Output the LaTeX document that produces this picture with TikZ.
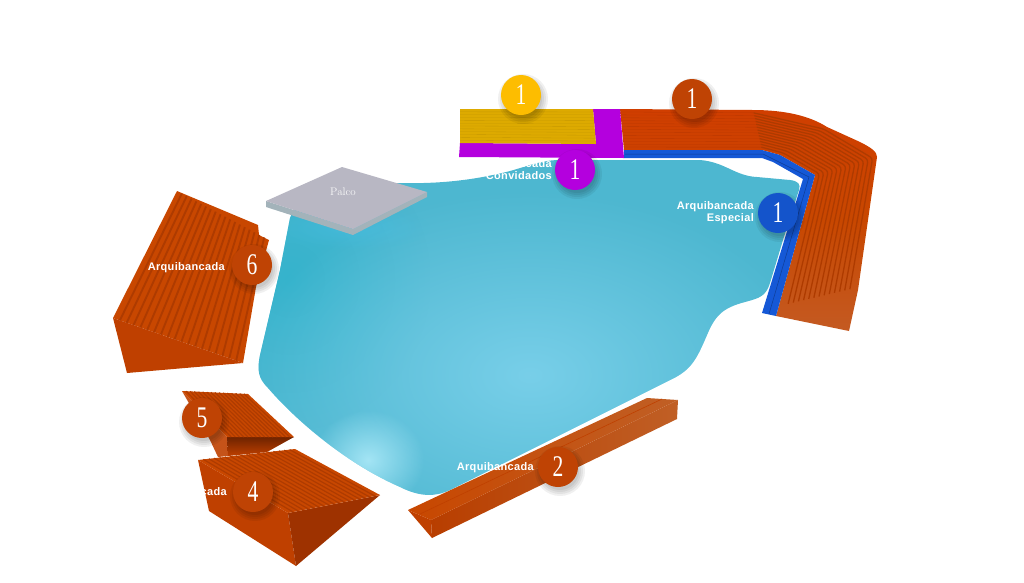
\documentclass[tikz,border=0pt]{standalone}
\usepackage{fontspec}
\usepackage{xcolor}
\usepackage{tikz}
\usetikzlibrary{calc,positioning,fadings}

\newfontfamily\tagfont[LetterSpace=3]{Liberation Sans}
\newfontfamily\numfont{Liberation Serif}

\definecolor{lakeblue}{HTML}{4DB7D0}
\definecolor{brick}{HTML}{C84700}
\definecolor{brickdark}{HTML}{AE3B00}
\definecolor{brickside}{HTML}{BF4000}
\definecolor{brickdeep}{HTML}{9E3200}
\definecolor{seatorange}{HTML}{D03E00}
\definecolor{seatgold}{HTML}{DDAA00}
\definecolor{seatpurple}{HTML}{B400DE}
\definecolor{seatblue}{HTML}{1558D6}
\definecolor{badgegold}{HTML}{FDBD00}
\definecolor{badgebrick}{HTML}{BF4304}
\definecolor{glowcyan}{HTML}{2FB2CB}
\definecolor{lightlake}{HTML}{78CFE9}
\definecolor{spotlake}{HTML}{BDF2FF}
\definecolor{palcotop}{HTML}{B8B7C3}
\definecolor{palcoside}{HTML}{A3B3BA}

\tikzfading[name=softglow, inner color=transparent!0, outer color=transparent!100]

\begin{document}
\begin{tikzpicture}[x=1pt,y=-1pt]

\tikzset{badge/.style={circle, fill=#1, text=white, minimum size=40pt, inner sep=0pt,
  font=\numfont\fontsize{30}{30}\selectfont},
badge/.default={badgebrick},
tag/.style={text=white, font=\tagfont\bfseries\fontsize{11}{12}\selectfont, align=right, anchor=east, inner sep=0pt},
riser/.style={draw=brickdark, line width=1.5pt}}

\newcommand{\num}[1]{\scalebox{.72}[1]{#1}}

\useasboundingbox (0,0) rectangle (1024,582);

% lake
\begin{scope}
\clip (290,218) .. controls (296,200) and (330,186) .. (400,183)
  .. controls (440,184) and (475,180) .. (510,171)
  .. controls (528,166) and (542,160) .. (560,160) -- (700,160)
  .. controls (725,162) and (735,176) .. (757,177) -- (790,180)
  .. controls (798,181) and (801,184) .. (799,190) -- (783,240) -- (770,283)
  .. controls (766,296) and (760,298) .. (745,302)
  .. controls (722,308) and (715,316) .. (707,335)
  .. controls (697,358) and (692,370) .. (670,380) -- (450,490)
  .. controls (435,497) and (420,497) .. (400,487)
  .. controls (350,465) and (300,425) .. (268,388)
  .. controls (258,378) and (257,370) .. (260,355) -- (280,270) -- cycle;
\fill[lakeblue] (200,100) rectangle (850,540);
\fill[glowcyan, opacity=.8, path fading=softglow] (150,130) rectangle (430,430);
\fill[lightlake, path fading=softglow] (240,190) rectangle (820,560);
\fill[spotlake, opacity=.75, path fading=softglow] (312,410) rectangle (424,510);
\fill[cyan!70!white, opacity=.3, path fading=softglow] (270,205) rectangle (430,250);
\end{scope}

% palco
\fill[palcoside] (266,201) -- (353,229) -- (427,192) -- (427,197) -- (353,235) -- (266,207) -- cycle;
\fill[palcotop] (342,167) -- (427,192) -- (353,229) -- (266,201) -- cycle;
\node (palco) at (343,192) {\textcolor{white!90!palcotop}{\fontsize{11}{11}\selectfont Palco}};

\node[tag] (tagguest) at (552,170) {Arquibancada\\Convidados};

% stand 6
\coordinate (s6a) at (177,191);
\coordinate (s6b) at (269,240);
\coordinate (s6c) at (113,318);
\coordinate (s6d) at (243,363);
\fill[brick] (s6a) -- (258,225) -- (259,235) -- (s6b) -- (256,287) -- (s6d) -- (s6c) -- cycle;
\fill[brickside] (s6c) -- (s6d) -- (127,373) -- cycle;
\foreach \i in {1,...,18}
\draw[riser, line width=1.9pt] ($(s6a)!\i/19!(s6b)$) -- ($(s6c)!\i/19!(s6d)$);

% stand 5
\coordinate (s5a) at (182,391);
\coordinate (s5b) at (248,394);
\coordinate (s5c) at (227,437);
\coordinate (s5d) at (294,437);
\fill[brickside!90!white] (s5a) -- (s5c) -- (228,456) -- (218,457) -- (210,440) -- cycle;
\shade[top color=brickdeep!70!black, bottom color=brickside] (s5c) -- (s5d) -- (267,452) -- (228,456) -- cycle;
\fill[brick] (s5a) -- (s5b) -- (s5d) -- (s5c) -- cycle;
\foreach \i in {1,...,15}
\draw[riser, line width=1.2pt] ($(s5a)!\i/16!(s5b)$) -- ($(s5c)!\i/16!(s5d)$);

% stand 4
\coordinate (s4a) at (198,460);
\coordinate (s4b) at (295,449);
\coordinate (s4c) at (288,513);
\coordinate (s4d) at (380,495);
\fill[brickside] (s4a) -- (s4c) -- (296,566) -- (209,511) -- cycle;
\fill[brickdeep] (s4c) -- (s4d) -- (296,566) -- cycle;
\fill[brick] (s4a) -- (s4b) -- (s4d) -- (s4c) -- cycle;
\foreach \i in {1,...,17}
\draw[riser, line width=1.2pt] ($(s4a)!\i/18!(s4b)$) -- ($(s4c)!\i/18!(s4d)$);

% stand 2
\definecolor{bandleft}{HTML}{B83E00}
\definecolor{bandright}{HTML}{C05F25}
\fill[brickside] (408,510) -- (431,520) -- (432,538) -- cycle;
\shade[left color=bandleft, right color=bandright] (431,520) -- (678,400) -- (677,419) -- (432,538) -- cycle;
\shade[left color=brick, right color=bandright] (408,510) -- (647,398) -- (678,400) -- (431,520) -- cycle;
\draw[brickside, line width=.6pt] (420,514) -- (662,399);

% stand 1
\coordinate (in1) at (624,150);
\coordinate (in2) at (762,150);
\coordinate (in3) at (780,155);
\coordinate (in4) at (815,175);
\coordinate (in5) at (783,305);
\coordinate (out1) at (620,109);
\coordinate (out2) at (753,110);
\coordinate (out3) at (827,127);
\coordinate (out4) at (877,157);
\coordinate (out5) at (855,288);
\definecolor{standfoot}{HTML}{C45A22}
\shade[top color=seatorange, bottom color=standfoot, middle color=brick]
  (out1) -- (out2) .. controls (785,110) and (810,116) .. (out3) -- (860,142)
  .. controls (872,148) and (877,152) .. (out4) -- (858,290) -- (849,331) -- (776,316) -- (in4) -- (in3) -- (in2) -- (in1) -- cycle;
\foreach \i in {1,...,13}
\draw[seatorange!90!black, line width=.3pt] ($(in1)!\i/14!(out1)$) -- ($(in2)!\i/14!(out2)$);
\foreach \i in {1,...,13}
\draw[brickdark, line width=1.3pt, rounded corners=3pt] ($(in2)!\i/14!(out2)$) -- ($(in3)!\i/14!(out3)$) -- ($(in4)!\i/14!(out4)$) -- ($(in5)!\i/14!(out5)$);
\fill[seatblue] (in1) -- (in2) -- (in3) -- (in4) -- (776,316) -- (762,313) -- (803,179) -- (773,162) -- (762,158) -- (624,158) -- cycle;
\draw[seatblue!70!black, line width=.5pt] (625,154) -- (763,154) -- (809,177) -- (769,314);

% seats beside it
\fill[seatpurple] (593,109) -- (620,109) -- (624,158) -- (459,157) -- (460,143) -- (596,144) -- cycle;
\fill[seatgold] (460,109) -- (593,109) -- (596,144) -- (460,143) -- cycle;
\foreach \i in {1,...,11}
\draw[seatgold!90!black, line width=.3pt] ($(460,109)!\i/12!(460,143)$) -- ($(593,109)!\i/12!(596,144)$);

\node[tag] (tag6) at (225,268) {Arquibancada};
\node[tag] (tag4) at (227,493) {Arquibancada};
\node[tag] (tag2) at (534,468) {Arquibancada};
\node[tag] (tagspecial) at (754,213) {Arquibancada\\Especial};

% soft shadows under the badges
\foreach \x/\y in {521/95, 692/99, 575/170, 778/213, 252/265, 202/418, 253/492, 558/467}
\foreach \r in {19,21,23,25}
\fill[black, opacity=.06] ({\x+2},{\y+4}) circle (\r pt);

\node[badge=badgegold] (gold) at (521,95) {\num{1}};
\node[badge] (orange) at (692,99) {\num{1}};
\node[badge=seatpurple] (guest) at (575,170) {\num{1}};
\node[badge=seatblue!95!black] (special) at (778,213) {\num{1}};
\node[badge] (six) at (252,265) {\num{6}};
\node[badge] (five) at (202,418) {\num{5}};
\node[badge] (four) at (253,492) {\num{4}};
\node[badge] (two) at (558,467) {\num{2}};

\end{tikzpicture}
\end{document}
